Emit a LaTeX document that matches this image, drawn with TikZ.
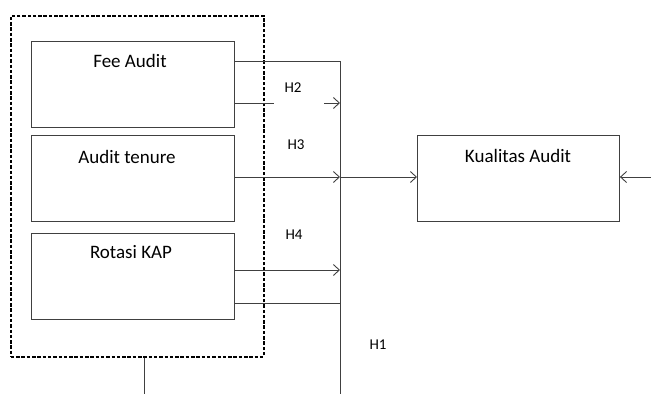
\documentclass[tikz,border=0pt]{standalone}
\usepackage{fontspec}
\setmainfont{Carlito}
\usetikzlibrary{arrows.meta}
\begin{document}
\begin{tikzpicture}[x=1pt,y=-1pt,
  ln/.style={draw=black!75,line width=0.9pt},
  box/.style={ln,rectangle,minimum width=203pt,minimum height=86pt,inner sep=0pt,anchor=north west},
  ttl/.style={font=\fontsize{19}{22}\selectfont,text=black},
  lbl/.style={font=\fontsize{15}{18}\selectfont,text=black},
  arr/.style={ln,-{Straight Barb[length=6pt,width=11pt,line width=0.9pt]}}]
\useasboundingbox (0,0) rectangle (651,394);
% dashed group
\node[draw=black,dash pattern=on 3.5pt off 1.8pt,line width=1.6pt,minimum width=253pt,minimum height=341pt,inner sep=0pt,anchor=north west] (grp) at (10,15) {};
\node[box] (fee) at (31,41) {};
\node[box] (ten) at (31,135) {};
\node[box] (rot) at (31,233) {};
\node[box,minimum width=202pt] (kua) at (417,135) {};
\node[ttl] at (130,61) {Fee Audit};
\node[ttl] at (127,157) {Audit tenure};
\node[ttl] at (131,252) {Rotasi KAP};
\node[ttl] at (518,156) {Kualitas Audit};
\node[lbl] (h2) at (293,88) {H2};
\node[lbl] (h3) at (296,145) {H3};
\node[lbl] (h4) at (294,235) {H4};
\node[lbl] (h1) at (378,345) {H1};
% junction coordinates
\coordinate (vt) at (340,61);
\coordinate (vb) at (340,394);
\coordinate (j2) at (340,103);
\coordinate (j3) at (340,177);
\coordinate (j4) at (340,270);
\coordinate (j5) at (340,303);
\coordinate (f2e) at (274,103);
\coordinate (f2s) at (324,103);
\coordinate (rin) at (651,177);
\coordinate (gb) at (144,394);
\draw[ln] (vt) -- (vb);
\draw[ln] (fee.east |- vt) -- (vt);
\draw[ln] (fee.east |- f2e) -- (f2e);
\draw[arr] (f2s) -- (j2);
\draw[arr] (ten.east |- j3) -- (j3);
\draw[arr] (j3) -- (kua.west |- j3);
\draw[arr] (rot.east |- j4) -- (j4);
\draw[ln] (rot.east |- j5) -- (j5);
\draw[arr] (rin) -- (kua.east |- rin);
\draw[ln] (grp.south -| gb) -- (gb);
\end{tikzpicture}
\end{document}
